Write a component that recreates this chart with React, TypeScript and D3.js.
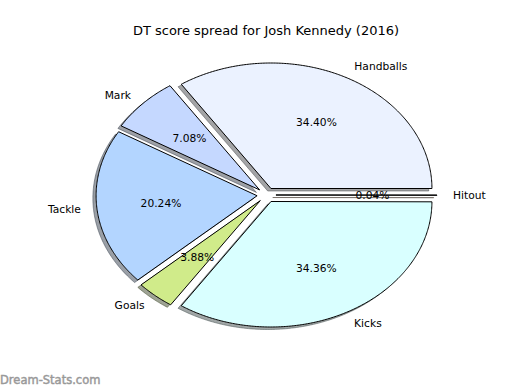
import React from "react";
import * as d3 from "d3";

const labels = ["Handballs", "Mark", "Tackle", "Goals", "Kicks", "Hitout"];
const values = [34.40, 7.08, 20.24, 3.88, 34.36, 0.04];
const colors = ["#EBF2FF", "#C5D8FF", "#B3D5FF", "#D0EB8A", "#D9FFFF", "#FFE4C4"];
const title = "DT score spread for Josh Kennedy (2016)";

const W = 520, H = 390;
const cx = 266.5, cy = 195, Rx = 161, Ry = 125.5;
const explode = 0.0587;
const font = "'DejaVu Sans', sans-serif";

function shade(c: string) {
  const col = d3.rgb(c);
  return d3.rgb(col.r * 0.3, col.g * 0.3, col.b * 0.3).formatHex();
}

export default function App() {
  const pie = d3.pie<number>().sort(null).startAngle(Math.PI / 2).endAngle(Math.PI / 2 - 2 * Math.PI);
  const arcs = pie(values);
  const line = d3.line<[number, number]>();
  const pt = (a: number, r: number, ox: number, oy: number): [number, number] => [
    cx + ox + Rx * r * Math.sin(a),
    cy + oy - Ry * r * Math.cos(a),
  ];
  const wedges = arcs.map((a, i) => {
    const mid = (a.startAngle + a.endAngle) / 2;
    const ox = explode * Rx * Math.sin(mid);
    const oy = -explode * Ry * Math.cos(mid);
    const n = Math.max(2, Math.ceil(Math.abs(a.endAngle - a.startAngle) / 0.01));
    const pts: [number, number][] = [[cx + ox, cy + oy]];
    for (let k = 0; k <= n; k++) {
      const t = a.startAngle + ((a.endAngle - a.startAngle) * k) / n;
      pts.push(pt(t, 1, ox, oy));
    }
    const d = line(pts) + "Z";
    const lab = pt(mid, 1.1, ox, oy);
    const pct = pt(mid, 0.6, ox, oy);
    return { d, lab, pct, mid, i };
  });
  return (
    <svg width={W} height={H} style={{ position: "absolute", left: 0, top: 0, background: "#fff" }}>
      <text x={266} y={35} fontFamily={font} fontSize={13} textAnchor="middle" fill="#000">{title}</text>
      <g>
        {wedges.map((w) => (
          <path key={"s" + w.i} d={w.d} transform={`translate(${-0.02 * Rx},${0.02 * Ry})`}
            fill={shade(colors[w.i])} fillOpacity={0.5} stroke={shade(colors[w.i])} strokeOpacity={0.5} strokeWidth={1} />
        ))}
      </g>
      <g>
        {wedges.map((w) => (
          <path key={"w" + w.i} d={w.d} fill={colors[w.i]} stroke="#000" strokeWidth={1} strokeLinejoin="miter" />
        ))}
      </g>
      {wedges.map((w) => (
        <text key={"l" + w.i} x={w.lab[0]} y={w.lab[1]} dy="0.35em" fontFamily={font} fontSize={10.7}
          textAnchor={Math.sin(w.mid) > 0 ? "start" : "end"} fill="#000">{labels[w.i]}</text>
      ))}
      {wedges.map((w) => (
        <text key={"p" + w.i} x={w.pct[0]} y={w.pct[1]} dy="0.35em" fontFamily={font} fontSize={10.7}
          textAnchor="middle" fill="#000">{d3.format(".2f")(values[w.i]) + "%"}</text>
      ))}
      <text x={0} y={384} fontFamily={font} fontWeight="normal" fontSize={11.5} fill="#999999"
        stroke="#999999" strokeWidth={0.45}>Dream-Stats.com</text>
    </svg>
  );
}
